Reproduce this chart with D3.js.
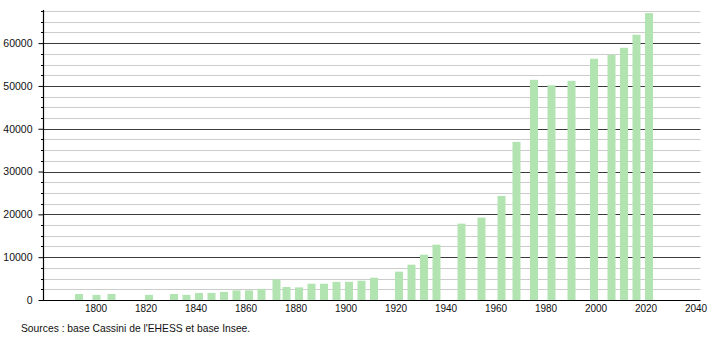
<!DOCTYPE html>
<html>
<head>
<meta charset="utf-8">
<script src="https://cdn.jsdelivr.net/npm/d3@7"></script>
<style>
  html, body { margin: 0; padding: 0; background: #fff; }
  svg { display: block; font-family: "Liberation Sans", Arial, sans-serif; }
</style>
</head>
<body>
<svg id="chart" width="710" height="340"></svg>
<script>
// Population data (years and values)
const years = [1793, 1800, 1806, 1821, 1831, 1836, 1841, 1846, 1851, 1856, 1861, 1866,
  1872, 1876, 1881, 1886, 1891, 1896, 1901, 1906, 1911, 1921, 1926, 1931, 1936,
  1946, 1954, 1962, 1968, 1975, 1982, 1990, 1999, 2006, 2011, 2016, 2021];
const population = [1400, 1200, 1400, 1200, 1400, 1200, 1650, 1650, 1900, 2250, 2250, 2600,
  4800, 3040, 2950, 3800, 3800, 4250, 4250, 4500, 5200, 6620, 8250, 10590, 12930,
  17840, 19240, 24310, 36930, 51430, 50150, 51190, 56340, 57270, 58910, 61950, 67010];
const xTickLabels = [1800, 1820, 1840, 1860, 1880, 1900, 1920, 1940, 1960, 1980, 2000, 2020, 2040];
const yTickLabels = [0, 10000, 20000, 30000, 40000, 50000, 60000];
const sourceText = "Sources : base Cassini de l'EHESS et base Insee.";

const svg = d3.select("#chart");
const mLeft = 43, mRight = 700.5, mTop = 11, mBottom = 300;

const x = d3.scaleLinear().domain([1779, 2042]).range([mLeft, mRight]);
const y = d3.scaleLinear().domain([0, 67500]).range([mBottom, mTop]);

// gridlines every 2500
const gridVals = d3.range(2500, 67501, 2500);
svg.append("g").selectAll("line").data(gridVals).join("line")
  .attr("x1", mLeft).attr("x2", mRight)
  .attr("y1", d => Math.round(y(d)) + 0.5).attr("y2", d => Math.round(y(d)) + 0.5)
  .attr("stroke", d => d % 10000 === 0 ? "#3a3a3a" : "#cccccc")
  .attr("stroke-width", 1);

// bars
svg.append("g").selectAll("rect").data(years).join("rect")
  .attr("x", (d) => x(d) - 3)
  .attr("width", 8)
  .attr("y", (d, i) => y(population[i]))
  .attr("height", (d, i) => mBottom - y(population[i]))
  .attr("fill", "#b2e4b2");

// y axis
const yAxis = d3.axisLeft(y).tickValues(yTickLabels).tickSize(5).tickFormat(d3.format("d"));
const yg = svg.append("g").attr("transform", `translate(${mLeft + 0.5},0)`).call(yAxis);
yg.select(".domain").remove();
yg.selectAll(".tick line").attr("stroke", "#000");
yg.selectAll(".tick text").attr("x", -11).attr("font-size", 10.5)
  .attr("font-family", "Liberation Sans, Arial, sans-serif").attr("fill", "#111");

// minor ticks
svg.append("g").selectAll("line").data(gridVals.filter(d => d % 10000 !== 0)).join("line")
  .attr("x1", mLeft - 2).attr("x2", mLeft)
  .attr("y1", d => Math.round(y(d)) + 0.5).attr("y2", d => Math.round(y(d)) + 0.5)
  .attr("stroke", "#000");

// axis lines
svg.append("line").attr("x1", mLeft + 0.5).attr("x2", mLeft + 0.5).attr("y1", 10).attr("y2", mBottom + 0.5)
  .attr("stroke", "#000").attr("stroke-width", 1.2);
svg.append("line").attr("x1", mLeft).attr("x2", mRight).attr("y1", mBottom + 0.5).attr("y2", mBottom + 0.5)
  .attr("stroke", "#000").attr("stroke-width", 1.2);

// x axis labels
const xAxis = d3.axisBottom(x).tickValues(xTickLabels).tickSize(0).tickPadding(0).tickFormat(d3.format("d"));
const xg = svg.append("g").attr("transform", `translate(0,${mBottom})`).call(xAxis);
xg.select(".domain").remove();
xg.selectAll(".tick text").attr("y", 5).attr("dy", "0.71em").attr("font-size", 10)
  .attr("font-family", "Liberation Sans, Arial, sans-serif").attr("fill", "#111");

// source
svg.append("text").attr("x", 21).attr("y", 332).attr("font-size", 10.3)
  .attr("fill", "#111").text(sourceText);
</script>
</body>
</html>
